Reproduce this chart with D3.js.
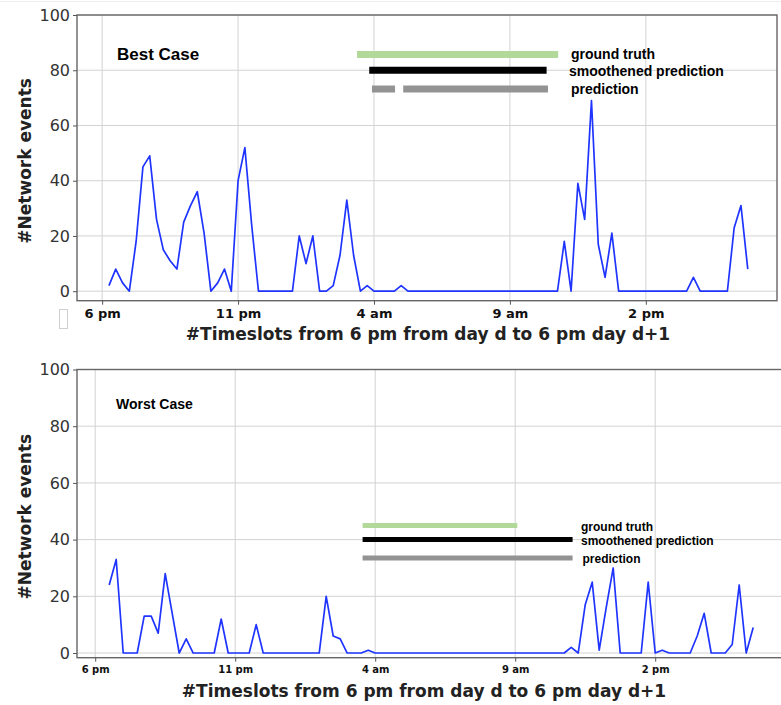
<!DOCTYPE html>
<html>
<head>
<meta charset="utf-8">
<script src="https://cdn.jsdelivr.net/npm/d3@7"></script>
<style>
  body { margin: 0; background: #fff; }
  svg { display: block; }
</style>
</head>
<body>
<div id="chart"></div>
<script>
// données : nombre d'événements réseau par créneau de 15 min (créneau 0 = 18h)

const tickSlots = [0, 20, 40, 60, 80];
const tickLabels = ["6 pm", "11 pm", "4 am", "9 am", "2 pm"];
const yTicks = [0, 20, 40, 60, 80, 100];

// meilleur cas : créneaux 1 à 95
const bestFirstSlot = 1;
const bestEvents = [
  2, 8, 3, 0, 18, 45, 49, 26, 15, 11,
  8, 25, 31, 36, 21, 0, 3, 8, 0, 40,
  52, 24, 0, 0, 0, 0, 0, 0, 20, 10,
  20, 0, 0, 2, 13, 33, 13, 0, 2, 0,
  0, 0, 0, 2, 0, 0, 0, 0, 0, 0,
  0, 0, 0, 0, 0, 0, 0, 0, 0, 0,
  0, 0, 0, 0, 0, 0, 0, 18, 0, 39,
  26, 69, 17, 5, 21, 0, 0, 0, 0, 0,
  0, 0, 0, 0, 0, 0, 5, 0, 0, 0,
  0, 0, 23, 31, 8
];

// pire cas : créneaux 2 à 94
const worstFirstSlot = 2;
const worstEvents = [
  24, 33, 0, 0, 0, 13, 13, 7, 28,
  14, 0, 5, 0, 0, 0, 0, 12, 0, 0,
  0, 0, 10, 0, 0, 0, 0, 0, 0, 0,
  0, 0, 20, 6, 5, 0, 0, 0, 1, 0,
  0, 0, 0, 0, 0, 0, 0, 0, 0, 0,
  0, 0, 0, 0, 0, 0, 0, 0, 0, 0,
  0, 0, 0, 0, 0, 0, 0, 2, 0, 17,
  25, 1, 16, 30, 0, 0, 0, 0, 25, 0,
  1, 0, 0, 0, 0, 6, 14, 0, 0, 0,
  3, 24, 0, 9
];

// périodes annotées : [créneau début, créneau fin] et niveau
const legendNames = ["ground truth", "smoothened prediction", "prediction"];
const bestPeriods = [
  [[37.5, 67.1]],
  [[39.3, 65.4]],
  [[39.7, 43.1], [44.3, 65.6]]
];
const bestLevels = [85.7, 80.0, 73.2];
const worstPeriods = [
  [[38.2, 60.3]],
  [[38.2, 68.2]],
  [[38.2, 68.2]]
];
const worstLevels = [45.0, 40.0, 33.5];

const W = 781, H = 705;
const lineColors = ["#b3d99a", "#000000", "#939393"];

const svg = d3.select("#chart").append("svg")
  .attr("width", W)
  .attr("height", H);

// petite ligne grise en haut de l'image
svg.append("line")
  .attr("x1", 0).attr("x2", W).attr("y1", 1.5).attr("y2", 1.5)
  .attr("stroke", "#eeeeee");

// petit rectangle vide sous l'axe y (artefact de l'original)
svg.append("rect")
  .attr("x", 59.5).attr("y", 309.5).attr("width", 8).attr("height", 19)
  .attr("fill", "none").attr("stroke", "#cfcfcf");

function panel(opt) {
  const x = d3.scaleLinear().domain(opt.xDomain).range([opt.left, opt.right]);
  const y = d3.scaleLinear().domain(opt.yDomain).range([opt.bottom, opt.top]);
  const g = svg.append("g");

  g.append("defs").append("clipPath").attr("id", opt.id)
    .append("rect")
    .attr("x", opt.left).attr("y", opt.top)
    .attr("width", opt.right - opt.left).attr("height", opt.bottom - opt.top);

  // grille
  g.append("g").selectAll("line")
    .data(yTicks).enter().append("line")
    .attr("x1", opt.left).attr("x2", opt.right)
    .attr("y1", d => y(d)).attr("y2", d => y(d))
    .attr("stroke", "#d3d3d3").attr("stroke-width", 1);
  g.append("g").selectAll("line")
    .data(tickSlots).enter().append("line")
    .attr("x1", d => x(d)).attr("x2", d => x(d))
    .attr("y1", opt.top).attr("y2", opt.bottom)
    .attr("stroke", "#d3d3d3").attr("stroke-width", 1);

  // périodes annotées
  const marks = g.append("g");
  opt.periods.forEach((segs, i) => {
    marks.selectAll(null)
      .data(segs).enter().append("line")
      .attr("x1", d => x(d[0])).attr("x2", d => x(d[1]))
      .attr("y1", y(opt.levels[i])).attr("y2", y(opt.levels[i]))
      .attr("stroke", lineColors[i])
      .attr("stroke-width", opt.markWidth);
  });

  // série
  const line = d3.line()
    .x((d, i) => x(opt.firstSlot + i))
    .y(d => y(d));
  g.append("path")
    .datum(opt.values)
    .attr("clip-path", `url(#${opt.id})`)
    .attr("d", line)
    .attr("fill", "none")
    .attr("stroke", "#1f35ff")
    .attr("stroke-width", 1.7)
    .attr("stroke-linejoin", "round");

  // cadre
  g.append("rect")
    .attr("x", opt.left).attr("y", opt.top)
    .attr("width", opt.right - opt.left).attr("height", opt.bottom - opt.top)
    .attr("fill", "none").attr("stroke", "#666").attr("stroke-width", 1.4);

  // axe y
  const yAxis = g.append("g")
    .attr("transform", `translate(${opt.left},0)`)
    .call(d3.axisLeft(y).tickValues(yTicks).tickSize(4).tickPadding(3));
  yAxis.select(".domain").remove();
  yAxis.selectAll(".tick line").attr("stroke", "#555");
  yAxis.selectAll("text")
    .attr("font-family", "DejaVu Sans")
    .attr("font-size", 16)
    .attr("fill", "#333");

  // axe x
  const xAxis = g.append("g")
    .attr("transform", `translate(0,${opt.bottom})`)
    .call(d3.axisBottom(x).tickValues(tickSlots)
      .tickFormat((d, i) => tickLabels[i]).tickSize(4).tickPadding(opt.xPad));
  xAxis.select(".domain").remove();
  xAxis.selectAll(".tick line").attr("stroke", "#555");
  xAxis.selectAll("text")
    .attr("font-family", "DejaVu Sans")
    .attr("font-weight", "bold")
    .attr("font-size", opt.xTickSize)
    .attr("fill", "#111");

  // titres d'axes
  g.append("text")
    .attr("transform", `translate(${opt.yLabelX},${(opt.top + opt.bottom) / 2 + 3}) rotate(-90)`)
    .attr("text-anchor", "middle")
    .attr("dy", "0.35em")
    .attr("font-family", "DejaVu Sans")
    .attr("font-weight", "bold")
    .attr("font-size", 17)
    .attr("fill", "#222")
    .text("#Network events");

  g.append("text")
    .attr("x", opt.xLabelX)
    .attr("y", opt.xLabelY)
    .attr("text-anchor", "middle")
    .attr("font-family", "DejaVu Sans")
    .attr("font-weight", "bold")
    .attr("font-size", 17)
    .attr("fill", "#222")
    .text("#Timeslots from 6 pm from day d to 6 pm day d+1");

  // titre du cas
  g.append("text")
    .attr("x", opt.titleX).attr("y", opt.titleY)
    .attr("font-family", "Liberation Sans, Arial, sans-serif")
    .attr("font-weight", "bold")
    .attr("font-size", opt.titleSize)
    .attr("fill", "#000")
    .text(opt.title);

  // étiquettes des périodes
  g.append("g").selectAll("text")
    .data(legendNames).enter().append("text")
    .attr("x", (d, i) => opt.labelX[i])
    .attr("y", (d, i) => opt.labelY[i])
    .attr("font-family", "Liberation Sans, Arial, sans-serif")
    .attr("font-weight", "bold")
    .attr("font-size", opt.labelSize)
    .attr("fill", "#000")
    .text(d => d);
}

panel({
  id: "clip-best",
  left: 77, right: 777, top: 15, bottom: 300.7,
  xDomain: [-3.7, 99.3], yDomain: [-3.45, 100],
  firstSlot: bestFirstSlot, values: bestEvents,
  periods: bestPeriods, levels: bestLevels, markWidth: 7,
  xTickSize: 13, xPad: 4,
  yLabelX: 25, xLabelX: 428, xLabelY: 340,
  title: "Best Case", titleX: 117, titleY: 60, titleSize: 17,
  labelX: [571, 569, 571], labelY: [58.5, 75.5, 93.5], labelSize: 14
});

panel({
  id: "clip-worst",
  left: 77, right: 785.4, top: 369.5, bottom: 657.7,
  xDomain: [-2.6, 98.6], yDomain: [-1.65, 100],
  firstSlot: worstFirstSlot, values: worstEvents,
  periods: worstPeriods, levels: worstLevels, markWidth: 5,
  xTickSize: 10, xPad: 4,
  yLabelX: 25, xLabelX: 424, xLabelY: 697,
  title: "Worst Case", titleX: 116, titleY: 409, titleSize: 14,
  labelX: [581, 581, 582.5], labelY: [531, 544.5, 562.5], labelSize: 12
});
</script>
</body>
</html>
